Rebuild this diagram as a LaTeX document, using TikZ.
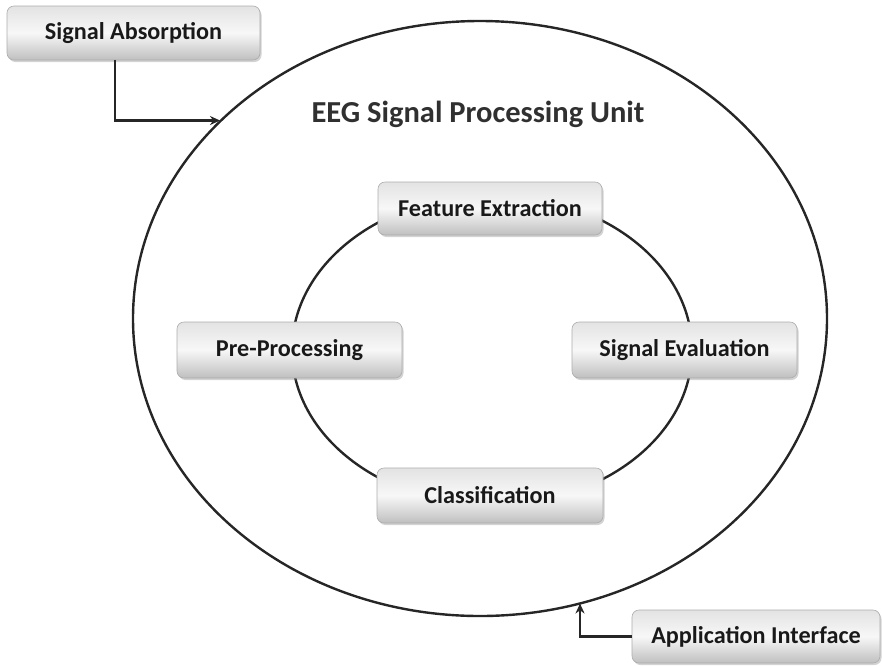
\documentclass[tikz,border=0pt]{standalone}
\usepackage{fontspec}
\setmainfont{Carlito}
\usetikzlibrary{shadows,arrows.meta}
\definecolor{inkgray}{HTML}{262626}
\definecolor{titlegray}{HTML}{303030}
\tikzset{
  stagebox/.style={draw=gray!65, line width=0.6pt, rounded corners=7pt,
    top color=gray!22, bottom color=gray!50, middle color=gray!6,
    drop shadow={shadow xshift=1.5pt, shadow yshift=-2pt, opacity=0.35, fill=gray},
    font=\bfseries\fontsize{24.2}{28}\selectfont, text=black!90,
    inner sep=0pt, align=center},
  ring/.style={draw=inkgray, line width=2.4pt},
  feed/.style={draw=inkgray, line width=2.4pt, -{Stealth[length=10pt,width=9pt]}}
}
\begin{document}
\begin{tikzpicture}[x=1pt,y=1pt]
\useasboundingbox (0,0) rectangle (882,-665);
% outer unit boundary and inner processing cycle
\draw[ring] (480,-318.5) ellipse [x radius=347, y radius=297.5];
\draw[ring] (492,-350) ellipse [x radius=200, y radius=155];
% title
\node[anchor=base, text=titlegray, font=\bfseries\fontsize{30.5}{35}\selectfont] (title) at (478,-122.5) {EEG Signal Processing Unit};
% processing stages
\node[stagebox, minimum width=224pt, minimum height=53pt] (fe) at (490,-208.5) {Feature Extraction};
\node[stagebox, minimum width=225pt, minimum height=56pt] (pp) at (289.5,-350) {Pre-Processing};
\node[stagebox, minimum width=225pt, minimum height=56pt] (se) at (684.5,-350) {Signal Evaluation};
\node[stagebox, minimum width=226pt, minimum height=55pt] (cl) at (490,-495.5) {Classification};
% external blocks
\node[stagebox, minimum width=253pt, minimum height=54pt] (sa) at (133.5,-33) {Signal Absorption};
\node[stagebox, minimum width=248pt, minimum height=53pt] (ai) at (756,-636.5) {Application Interface};
% entry points on the outer boundary
\coordinate (inA) at (220,-120.5);
\coordinate (inB) at (580,-603.5);
\coordinate (sadrop) at (115,-33);
\draw[feed] (sa.south -| sadrop) |- (inA);
\draw[feed] (ai.west) -| (inB);
\end{tikzpicture}
\end{document}
